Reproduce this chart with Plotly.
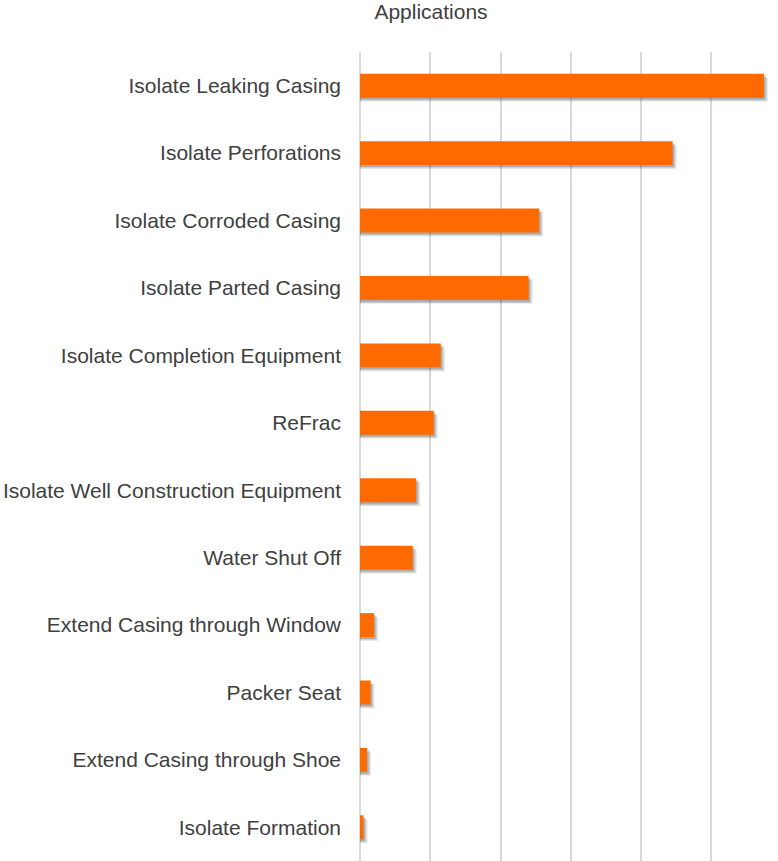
import plotly.graph_objects as go

categories = [
    "Isolate Leaking Casing",
    "Isolate Perforations",
    "Isolate Corroded Casing",
    "Isolate Parted Casing",
    "Isolate Completion Equipment",
    "ReFrac",
    "Isolate Well Construction Equipment",
    "Water Shut Off",
    "Extend Casing through Window",
    "Packer Seat",
    "Extend Casing through Shoe",
    "Isolate Formation",
]
values = [115, 89, 51, 48, 23, 21, 16, 15, 4, 3, 2, 1]

BAR_W = 0.355
fig = go.Figure()
# soft drop shadow layers
for dx, dy, a in [(1.2, 0.06, 0.08), (0.8, 0.045, 0.12), (0.45, 0.03, 0.16)]:
    fig.add_trace(go.Bar(
        y=categories, x=[v + dx for v in values], orientation="h",
        width=BAR_W, offset=-BAR_W / 2 + dy,
        marker=dict(color=f"rgba(0,0,0,{a})", line=dict(width=0)),
        hoverinfo="skip", showlegend=False,
    ))
fig.add_trace(go.Bar(
    y=categories, x=values, orientation="h",
    width=BAR_W, offset=-BAR_W / 2,
    marker=dict(color="#FF6A00", line=dict(width=0)),
    showlegend=False,
))

fig.update_layout(
    width=778, height=861,
    margin=dict(l=360, r=0, t=52, b=0),
    barmode="overlay",
    plot_bgcolor="white", paper_bgcolor="white",
    font=dict(family="Liberation Sans, Arial", size=21, color="#404040"),
    title=dict(text="Applications", x=431 / 778, xanchor="center", xref="container",
               y=1 - 12 / 861, yanchor="middle", yref="container",
               font=dict(size=21, color="#404040")),
)
fig.update_xaxes(range=[0, 119], dtick=20, showticklabels=False,
                 showgrid=True, gridcolor="#d9d9d9", gridwidth=1.5,
                 zeroline=True, zerolinecolor="#d9d9d9", zerolinewidth=1.5,
                 showline=False, fixedrange=True)
fig.update_yaxes(autorange="reversed", showgrid=False, showline=False,
                 ticks="", ticklabelstandoff=18, automargin=False,
                 tickfont=dict(size=21, color="#404040"))

fig.write_html("out.html")
